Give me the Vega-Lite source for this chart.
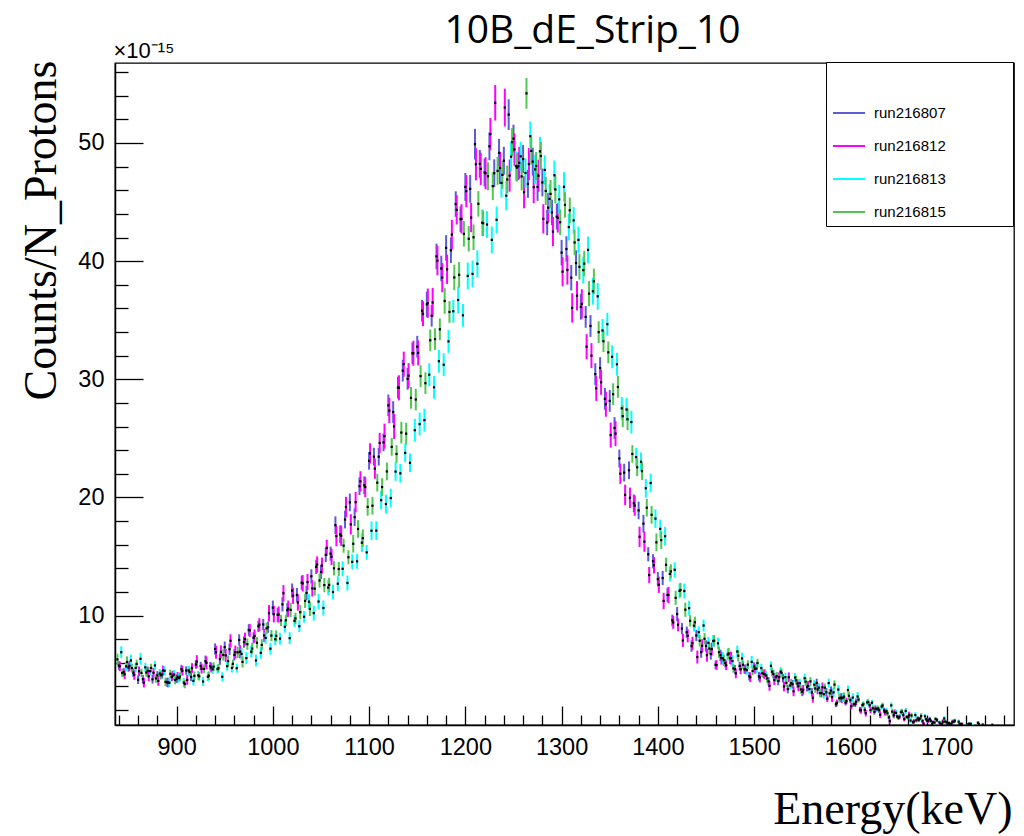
{
"$schema": "https://vega.github.io/schema/vega-lite/v6.json",
"width": 899, "height": 662,
"autosize": {"type": "none"},
"padding": {"left": 115, "top": 63, "right": 10, "bottom": 111},
"background": "white",
"title": {"text": "10B_dE_Strip_10", "font": "Open Sans", "fontSize": 39, "fontWeight": "normal", "color": "black", "anchor": "middle", "frame": "group", "dx": 28, "offset": -43, "baseline": "alphabetic"},
"config": {"view": {"stroke": "black", "strokeWidth": 1.3},
 "axis": {"labelFont": "Liberation Sans", "labelFontSize": 23.5, "labelColor": "black", "domainColor": "black", "domainWidth": 1.5, "tickColor": "black", "tickWidth": 1.3, "grid": false, "labelOverlap": false, "labelFlush": false, "labelBound": false, "titleColor": "black"}},
"data": {"values": [
{"r":"run216807","x":840,"y":5.77,"e":0.36},{"r":"run216807","x":845,"y":5.22,"e":0.36},{"r":"run216807","x":850,"y":5.61,"e":0.36},{"r":"run216807","x":855,"y":5.17,"e":0.36},{"r":"run216807","x":860,"y":4.57,"e":0.36},{"r":"run216807","x":865,"y":4.61,"e":0.36},{"r":"run216807","x":870,"y":5.32,"e":0.36},{"r":"run216807","x":875,"y":4.61,"e":0.36},{"r":"run216807","x":880,"y":4.94,"e":0.36},{"r":"run216807","x":885,"y":5.02,"e":0.36},{"r":"run216807","x":890,"y":4.35,"e":0.36},{"r":"run216807","x":895,"y":4.8,"e":0.36},{"r":"run216807","x":900,"y":4.65,"e":0.36},{"r":"run216807","x":905,"y":5.47,"e":0.36},{"r":"run216807","x":910,"y":5.35,"e":0.36},{"r":"run216807","x":915,"y":4.81,"e":0.36},{"r":"run216807","x":920,"y":5.86,"e":0.36},{"r":"run216807","x":925,"y":5.73,"e":0.36},{"r":"run216807","x":930,"y":6.14,"e":0.48},{"r":"run216807","x":935,"y":5.72,"e":0.36},{"r":"run216807","x":940,"y":7.17,"e":0.48},{"r":"run216807","x":945,"y":6.31,"e":0.48},{"r":"run216807","x":950,"y":7.33,"e":0.48},{"r":"run216807","x":955,"y":7.15,"e":0.48},{"r":"run216807","x":960,"y":6.68,"e":0.48},{"r":"run216807","x":965,"y":7.94,"e":0.48},{"r":"run216807","x":970,"y":7.76,"e":0.48},{"r":"run216807","x":975,"y":8.78,"e":0.48},{"r":"run216807","x":980,"y":8.12,"e":0.48},{"r":"run216807","x":985,"y":9.09,"e":0.48},{"r":"run216807","x":990,"y":9.25,"e":0.48},{"r":"run216807","x":995,"y":9.02,"e":0.48},{"r":"run216807","x":1000,"y":10.67,"e":0.6},{"r":"run216807","x":1005,"y":10.06,"e":0.6},{"r":"run216807","x":1010,"y":10.95,"e":0.6},{"r":"run216807","x":1015,"y":10.46,"e":0.6},{"r":"run216807","x":1020,"y":12.12,"e":0.6},{"r":"run216807","x":1025,"y":11.74,"e":0.6},{"r":"run216807","x":1030,"y":12.79,"e":0.6},{"r":"run216807","x":1035,"y":11.92,"e":0.6},{"r":"run216807","x":1040,"y":13.32,"e":0.6},{"r":"run216807","x":1045,"y":14.12,"e":0.6},{"r":"run216807","x":1050,"y":13.7,"e":0.6},{"r":"run216807","x":1055,"y":15.14,"e":0.6},{"r":"run216807","x":1060,"y":15.24,"e":0.6},{"r":"run216807","x":1065,"y":17.65,"e":0.75},{"r":"run216807","x":1070,"y":16.88,"e":0.75},{"r":"run216807","x":1075,"y":18.13,"e":0.75},{"r":"run216807","x":1080,"y":19.58,"e":0.75},{"r":"run216807","x":1085,"y":18.33,"e":0.75},{"r":"run216807","x":1090,"y":20.95,"e":0.75},{"r":"run216807","x":1095,"y":21.03,"e":0.75},{"r":"run216807","x":1100,"y":23.1,"e":0.75},{"r":"run216807","x":1105,"y":23.45,"e":0.75},{"r":"run216807","x":1110,"y":23.45,"e":0.75},{"r":"run216807","x":1115,"y":24.66,"e":0.75},{"r":"run216807","x":1120,"y":27.79,"e":0.92},{"r":"run216807","x":1125,"y":27.23,"e":0.92},{"r":"run216807","x":1130,"y":29.3,"e":0.92},{"r":"run216807","x":1135,"y":30.73,"e":0.92},{"r":"run216807","x":1140,"y":30.04,"e":0.92},{"r":"run216807","x":1145,"y":32.2,"e":0.92},{"r":"run216807","x":1150,"y":32.76,"e":0.92},{"r":"run216807","x":1155,"y":35.8,"e":0.92},{"r":"run216807","x":1160,"y":36.34,"e":1.08},{"r":"run216807","x":1165,"y":35.38,"e":0.92},{"r":"run216807","x":1170,"y":40.4,"e":1.08},{"r":"run216807","x":1175,"y":39.38,"e":1.08},{"r":"run216807","x":1180,"y":41.12,"e":1.08},{"r":"run216807","x":1185,"y":40.92,"e":1.08},{"r":"run216807","x":1190,"y":44.83,"e":1.08},{"r":"run216807","x":1195,"y":43.55,"e":1.08},{"r":"run216807","x":1200,"y":46.28,"e":1.18},{"r":"run216807","x":1205,"y":46.12,"e":1.18},{"r":"run216807","x":1210,"y":49.9,"e":1.3},{"r":"run216807","x":1215,"y":48.23,"e":1.18},{"r":"run216807","x":1220,"y":47.5,"e":1.18},{"r":"run216807","x":1225,"y":49.72,"e":1.18},{"r":"run216807","x":1230,"y":47.44,"e":1.18},{"r":"run216807","x":1235,"y":49.17,"e":1.18},{"r":"run216807","x":1240,"y":48.5,"e":1.18},{"r":"run216807","x":1245,"y":52.4,"e":1.3},{"r":"run216807","x":1250,"y":50.37,"e":1.18},{"r":"run216807","x":1255,"y":48.03,"e":1.18},{"r":"run216807","x":1260,"y":48.64,"e":1.18},{"r":"run216807","x":1265,"y":46.54,"e":1.18},{"r":"run216807","x":1270,"y":48.42,"e":1.18},{"r":"run216807","x":1275,"y":46.28,"e":1.18},{"r":"run216807","x":1280,"y":46.66,"e":1.18},{"r":"run216807","x":1285,"y":43.27,"e":1.08},{"r":"run216807","x":1290,"y":44.12,"e":1.08},{"r":"run216807","x":1295,"y":43.76,"e":1.08},{"r":"run216807","x":1300,"y":40.72,"e":1.08},{"r":"run216807","x":1305,"y":41.03,"e":1.08},{"r":"run216807","x":1310,"y":38.6,"e":1.08},{"r":"run216807","x":1315,"y":39.84,"e":1.08},{"r":"run216807","x":1320,"y":36.13,"e":1.08},{"r":"run216807","x":1325,"y":35.28,"e":0.92},{"r":"run216807","x":1330,"y":34.51,"e":0.92},{"r":"run216807","x":1335,"y":30.44,"e":0.92},{"r":"run216807","x":1340,"y":30.95,"e":0.92},{"r":"run216807","x":1345,"y":28.34,"e":0.92},{"r":"run216807","x":1350,"y":28.17,"e":0.92},{"r":"run216807","x":1355,"y":25.88,"e":0.92},{"r":"run216807","x":1360,"y":23.3,"e":0.75},{"r":"run216807","x":1365,"y":22.1,"e":0.75},{"r":"run216807","x":1370,"y":22.3,"e":0.75},{"r":"run216807","x":1375,"y":19.5,"e":0.75},{"r":"run216807","x":1380,"y":18.9,"e":0.75},{"r":"run216807","x":1385,"y":17.78,"e":0.75},{"r":"run216807","x":1390,"y":15.19,"e":0.6},{"r":"run216807","x":1395,"y":14.6,"e":0.6},{"r":"run216807","x":1400,"y":13.08,"e":0.6},{"r":"run216807","x":1405,"y":13.18,"e":0.6},{"r":"run216807","x":1410,"y":11.75,"e":0.6},{"r":"run216807","x":1415,"y":9.6,"e":0.48},{"r":"run216807","x":1420,"y":10.13,"e":0.6},{"r":"run216807","x":1425,"y":8.9,"e":0.48},{"r":"run216807","x":1430,"y":8.59,"e":0.48},{"r":"run216807","x":1435,"y":7.42,"e":0.48},{"r":"run216807","x":1440,"y":8.32,"e":0.48},{"r":"run216807","x":1445,"y":6.91,"e":0.48},{"r":"run216807","x":1450,"y":7.43,"e":0.48},{"r":"run216807","x":1455,"y":6.75,"e":0.48},{"r":"run216807","x":1460,"y":5.83,"e":0.36},{"r":"run216807","x":1465,"y":6.64,"e":0.48},{"r":"run216807","x":1470,"y":5.98,"e":0.36},{"r":"run216807","x":1475,"y":6.38,"e":0.48},{"r":"run216807","x":1480,"y":5.46,"e":0.36},{"r":"run216807","x":1485,"y":5.74,"e":0.36},{"r":"run216807","x":1490,"y":5.45,"e":0.36},{"r":"run216807","x":1495,"y":4.87,"e":0.36},{"r":"run216807","x":1500,"y":5.69,"e":0.36},{"r":"run216807","x":1505,"y":4.86,"e":0.36},{"r":"run216807","x":1510,"y":5.06,"e":0.36},{"r":"run216807","x":1515,"y":4.43,"e":0.36},{"r":"run216807","x":1520,"y":5.05,"e":0.36},{"r":"run216807","x":1525,"y":4.46,"e":0.36},{"r":"run216807","x":1530,"y":4.7,"e":0.36},{"r":"run216807","x":1535,"y":3.78,"e":0.36},{"r":"run216807","x":1540,"y":4.19,"e":0.36},{"r":"run216807","x":1545,"y":4.25,"e":0.36},{"r":"run216807","x":1550,"y":3.54,"e":0.36},{"r":"run216807","x":1555,"y":3.94,"e":0.36},{"r":"run216807","x":1560,"y":3.5,"e":0.36},{"r":"run216807","x":1565,"y":4.3,"e":0.36},{"r":"run216807","x":1570,"y":3.44,"e":0.36},{"r":"run216807","x":1575,"y":3.51,"e":0.36},{"r":"run216807","x":1580,"y":3.65,"e":0.36},{"r":"run216807","x":1585,"y":2.49,"e":0.24},{"r":"run216807","x":1590,"y":3.06,"e":0.36},{"r":"run216807","x":1595,"y":2.63,"e":0.24},{"r":"run216807","x":1600,"y":2.84,"e":0.24},{"r":"run216807","x":1605,"y":2.5,"e":0.24},{"r":"run216807","x":1610,"y":2.03,"e":0.24},{"r":"run216807","x":1615,"y":2.01,"e":0.24},{"r":"run216807","x":1620,"y":2.42,"e":0.24},{"r":"run216807","x":1625,"y":1.85,"e":0.24},{"r":"run216807","x":1630,"y":1.99,"e":0.24},{"r":"run216807","x":1635,"y":1.97,"e":0.24},{"r":"run216807","x":1640,"y":1.39,"e":0.18},{"r":"run216807","x":1645,"y":1.55,"e":0.24},{"r":"run216807","x":1650,"y":1.35,"e":0.18},{"r":"run216807","x":1655,"y":1.6,"e":0.24},{"r":"run216807","x":1660,"y":1.39,"e":0.18},{"r":"run216807","x":1665,"y":0.98,"e":0.14},{"r":"run216807","x":1670,"y":1.3,"e":0.18},{"r":"run216807","x":1675,"y":1.07,"e":0.18},{"r":"run216807","x":1680,"y":1.09,"e":0.18},{"r":"run216807","x":1685,"y":0.84,"e":0.14},{"r":"run216807","x":1690,"y":1.15,"e":0.18},{"r":"run216807","x":1695,"y":0.8,"e":0.14},{"r":"run216807","x":1700,"y":0.98,"e":0.14},{"r":"run216807","x":1705,"y":0.81,"e":0.14},{"r":"run216807","x":1715,"y":0.82,"e":0.14},{"r":"run216807","x":1720,"y":0.65,"e":0.14},{"r":"run216807","x":1725,"y":0.83,"e":0.14},
{"r":"run216812","x":841,"y":5.71,"e":0.41},{"r":"run216812","x":846,"y":5.03,"e":0.41},{"r":"run216812","x":851,"y":5.74,"e":0.41},{"r":"run216812","x":856,"y":4.98,"e":0.41},{"r":"run216812","x":861,"y":5.29,"e":0.41},{"r":"run216812","x":866,"y":4.33,"e":0.41},{"r":"run216812","x":871,"y":4.86,"e":0.41},{"r":"run216812","x":876,"y":5.16,"e":0.41},{"r":"run216812","x":881,"y":4.47,"e":0.41},{"r":"run216812","x":886,"y":5.36,"e":0.41},{"r":"run216812","x":891,"y":4.34,"e":0.41},{"r":"run216812","x":896,"y":4.92,"e":0.41},{"r":"run216812","x":901,"y":4.82,"e":0.41},{"r":"run216812","x":906,"y":5.33,"e":0.41},{"r":"run216812","x":911,"y":4.56,"e":0.41},{"r":"run216812","x":916,"y":5.56,"e":0.41},{"r":"run216812","x":921,"y":6.1,"e":0.55},{"r":"run216812","x":926,"y":5.51,"e":0.41},{"r":"run216812","x":931,"y":6.0,"e":0.55},{"r":"run216812","x":936,"y":5.6,"e":0.41},{"r":"run216812","x":941,"y":6.9,"e":0.55},{"r":"run216812","x":946,"y":6.93,"e":0.55},{"r":"run216812","x":951,"y":6.63,"e":0.55},{"r":"run216812","x":956,"y":7.87,"e":0.55},{"r":"run216812","x":961,"y":6.91,"e":0.55},{"r":"run216812","x":966,"y":6.94,"e":0.55},{"r":"run216812","x":971,"y":8.01,"e":0.55},{"r":"run216812","x":976,"y":8.75,"e":0.55},{"r":"run216812","x":981,"y":8.28,"e":0.55},{"r":"run216812","x":986,"y":9.23,"e":0.55},{"r":"run216812","x":991,"y":8.32,"e":0.55},{"r":"run216812","x":996,"y":10.2,"e":0.69},{"r":"run216812","x":1001,"y":10.12,"e":0.69},{"r":"run216812","x":1006,"y":10.09,"e":0.69},{"r":"run216812","x":1011,"y":11.89,"e":0.69},{"r":"run216812","x":1016,"y":10.59,"e":0.69},{"r":"run216812","x":1021,"y":11.68,"e":0.69},{"r":"run216812","x":1026,"y":11.11,"e":0.69},{"r":"run216812","x":1031,"y":12.73,"e":0.69},{"r":"run216812","x":1036,"y":12.84,"e":0.69},{"r":"run216812","x":1041,"y":12.3,"e":0.69},{"r":"run216812","x":1046,"y":14.32,"e":0.69},{"r":"run216812","x":1051,"y":14.23,"e":0.69},{"r":"run216812","x":1056,"y":15.73,"e":0.69},{"r":"run216812","x":1061,"y":14.98,"e":0.69},{"r":"run216812","x":1066,"y":16.73,"e":0.86},{"r":"run216812","x":1071,"y":16.76,"e":0.86},{"r":"run216812","x":1076,"y":19.19,"e":0.86},{"r":"run216812","x":1081,"y":17.72,"e":0.86},{"r":"run216812","x":1086,"y":19.6,"e":0.86},{"r":"run216812","x":1091,"y":21.36,"e":0.86},{"r":"run216812","x":1096,"y":20.88,"e":0.86},{"r":"run216812","x":1101,"y":23.73,"e":0.86},{"r":"run216812","x":1106,"y":22.44,"e":0.86},{"r":"run216812","x":1111,"y":24.61,"e":0.86},{"r":"run216812","x":1116,"y":25.19,"e":1.06},{"r":"run216812","x":1121,"y":27.35,"e":1.06},{"r":"run216812","x":1126,"y":26.01,"e":1.06},{"r":"run216812","x":1131,"y":29.28,"e":1.06},{"r":"run216812","x":1136,"y":31.28,"e":1.06},{"r":"run216812","x":1141,"y":30.31,"e":1.06},{"r":"run216812","x":1146,"y":32.2,"e":1.06},{"r":"run216812","x":1151,"y":32.23,"e":1.06},{"r":"run216812","x":1156,"y":35.55,"e":1.06},{"r":"run216812","x":1161,"y":36.44,"e":1.24},{"r":"run216812","x":1166,"y":36.5,"e":1.24},{"r":"run216812","x":1171,"y":40.04,"e":1.24},{"r":"run216812","x":1176,"y":38.61,"e":1.24},{"r":"run216812","x":1181,"y":39.31,"e":1.24},{"r":"run216812","x":1186,"y":42.25,"e":1.24},{"r":"run216812","x":1191,"y":44.34,"e":1.24},{"r":"run216812","x":1196,"y":43.58,"e":1.24},{"r":"run216812","x":1201,"y":45.92,"e":1.36},{"r":"run216812","x":1206,"y":43.69,"e":1.24},{"r":"run216812","x":1211,"y":48.2,"e":1.36},{"r":"run216812","x":1216,"y":47.81,"e":1.36},{"r":"run216812","x":1221,"y":47.44,"e":1.36},{"r":"run216812","x":1226,"y":50.75,"e":1.36},{"r":"run216812","x":1231,"y":53.4,"e":1.5},{"r":"run216812","x":1236,"y":47.88,"e":1.36},{"r":"run216812","x":1241,"y":53.0,"e":1.6},{"r":"run216812","x":1246,"y":47.24,"e":1.36},{"r":"run216812","x":1251,"y":49.45,"e":1.36},{"r":"run216812","x":1256,"y":48.32,"e":1.36},{"r":"run216812","x":1261,"y":45.83,"e":1.36},{"r":"run216812","x":1266,"y":48.22,"e":1.36},{"r":"run216812","x":1271,"y":46.26,"e":1.36},{"r":"run216812","x":1276,"y":47.23,"e":1.36},{"r":"run216812","x":1281,"y":43.58,"e":1.24},{"r":"run216812","x":1286,"y":44.52,"e":1.24},{"r":"run216812","x":1291,"y":42.5,"e":1.24},{"r":"run216812","x":1296,"y":43.66,"e":1.24},{"r":"run216812","x":1301,"y":39.11,"e":1.24},{"r":"run216812","x":1306,"y":39.25,"e":1.24},{"r":"run216812","x":1311,"y":36.04,"e":1.24},{"r":"run216812","x":1316,"y":37.07,"e":1.24},{"r":"run216812","x":1321,"y":36.38,"e":1.24},{"r":"run216812","x":1326,"y":32.76,"e":1.06},{"r":"run216812","x":1331,"y":32.0,"e":1.06},{"r":"run216812","x":1336,"y":29.23,"e":1.06},{"r":"run216812","x":1341,"y":29.75,"e":1.06},{"r":"run216812","x":1346,"y":27.89,"e":1.06},{"r":"run216812","x":1351,"y":25.28,"e":1.06},{"r":"run216812","x":1356,"y":25.4,"e":1.06},{"r":"run216812","x":1361,"y":22.01,"e":0.86},{"r":"run216812","x":1366,"y":20.22,"e":0.86},{"r":"run216812","x":1371,"y":19.97,"e":0.86},{"r":"run216812","x":1376,"y":19.31,"e":0.86},{"r":"run216812","x":1381,"y":16.67,"e":0.86},{"r":"run216812","x":1386,"y":16.26,"e":0.86},{"r":"run216812","x":1391,"y":13.43,"e":0.69},{"r":"run216812","x":1396,"y":14.26,"e":0.69},{"r":"run216812","x":1401,"y":12.61,"e":0.69},{"r":"run216812","x":1406,"y":11.24,"e":0.69},{"r":"run216812","x":1411,"y":11.74,"e":0.69},{"r":"run216812","x":1416,"y":9.42,"e":0.55},{"r":"run216812","x":1421,"y":9.22,"e":0.55},{"r":"run216812","x":1426,"y":7.9,"e":0.55},{"r":"run216812","x":1431,"y":8.29,"e":0.55},{"r":"run216812","x":1436,"y":7.66,"e":0.55},{"r":"run216812","x":1441,"y":6.49,"e":0.55},{"r":"run216812","x":1446,"y":7.45,"e":0.55},{"r":"run216812","x":1451,"y":6.65,"e":0.55},{"r":"run216812","x":1456,"y":7.16,"e":0.55},{"r":"run216812","x":1461,"y":5.81,"e":0.41},{"r":"run216812","x":1466,"y":6.4,"e":0.55},{"r":"run216812","x":1471,"y":5.79,"e":0.41},{"r":"run216812","x":1476,"y":6.4,"e":0.55},{"r":"run216812","x":1481,"y":5.11,"e":0.41},{"r":"run216812","x":1486,"y":5.45,"e":0.41},{"r":"run216812","x":1491,"y":5.46,"e":0.41},{"r":"run216812","x":1496,"y":4.78,"e":0.41},{"r":"run216812","x":1501,"y":5.49,"e":0.41},{"r":"run216812","x":1506,"y":4.76,"e":0.41},{"r":"run216812","x":1511,"y":5.04,"e":0.41},{"r":"run216812","x":1516,"y":4.05,"e":0.41},{"r":"run216812","x":1521,"y":4.54,"e":0.41},{"r":"run216812","x":1526,"y":4.79,"e":0.41},{"r":"run216812","x":1531,"y":4.0,"e":0.41},{"r":"run216812","x":1536,"y":4.78,"e":0.41},{"r":"run216812","x":1541,"y":3.59,"e":0.41},{"r":"run216812","x":1546,"y":4.02,"e":0.41},{"r":"run216812","x":1551,"y":3.72,"e":0.41},{"r":"run216812","x":1556,"y":4.05,"e":0.41},{"r":"run216812","x":1561,"y":3.04,"e":0.41},{"r":"run216812","x":1566,"y":3.75,"e":0.41},{"r":"run216812","x":1571,"y":3.93,"e":0.41},{"r":"run216812","x":1576,"y":2.96,"e":0.28},{"r":"run216812","x":1581,"y":3.1,"e":0.41},{"r":"run216812","x":1586,"y":2.61,"e":0.28},{"r":"run216812","x":1591,"y":3.0,"e":0.41},{"r":"run216812","x":1596,"y":2.77,"e":0.28},{"r":"run216812","x":1601,"y":2.34,"e":0.28},{"r":"run216812","x":1606,"y":2.71,"e":0.28},{"r":"run216812","x":1611,"y":1.98,"e":0.28},{"r":"run216812","x":1616,"y":1.74,"e":0.28},{"r":"run216812","x":1621,"y":2.01,"e":0.28},{"r":"run216812","x":1626,"y":2.13,"e":0.28},{"r":"run216812","x":1631,"y":1.61,"e":0.28},{"r":"run216812","x":1636,"y":1.82,"e":0.28},{"r":"run216812","x":1641,"y":1.07,"e":0.2},{"r":"run216812","x":1646,"y":1.78,"e":0.28},{"r":"run216812","x":1651,"y":1.44,"e":0.2},{"r":"run216812","x":1656,"y":1.24,"e":0.2},{"r":"run216812","x":1661,"y":1.59,"e":0.28},{"r":"run216812","x":1666,"y":1.04,"e":0.2},{"r":"run216812","x":1671,"y":1.18,"e":0.2},{"r":"run216812","x":1676,"y":0.84,"e":0.16},{"r":"run216812","x":1681,"y":1.12,"e":0.2},{"r":"run216812","x":1686,"y":0.97,"e":0.16},{"r":"run216812","x":1691,"y":0.62,"e":0.16},{"r":"run216812","x":1696,"y":1.02,"e":0.2},{"r":"run216812","x":1701,"y":0.78,"e":0.16},{"r":"run216812","x":1706,"y":1.0,"e":0.2},{"r":"run216812","x":1716,"y":0.79,"e":0.16},
{"r":"run216813","x":842.5,"y":6.9,"e":0.5},{"r":"run216813","x":847.5,"y":5.7,"e":0.38},{"r":"run216813","x":852.5,"y":6.2,"e":0.5},{"r":"run216813","x":857.5,"y":5.57,"e":0.38},{"r":"run216813","x":862.5,"y":6.34,"e":0.5},{"r":"run216813","x":867.5,"y":5.62,"e":0.38},{"r":"run216813","x":872.5,"y":5.29,"e":0.38},{"r":"run216813","x":877.5,"y":5.78,"e":0.38},{"r":"run216813","x":882.5,"y":5.1,"e":0.38},{"r":"run216813","x":887.5,"y":5.33,"e":0.38},{"r":"run216813","x":892.5,"y":4.32,"e":0.38},{"r":"run216813","x":897.5,"y":5.01,"e":0.38},{"r":"run216813","x":902.5,"y":4.71,"e":0.38},{"r":"run216813","x":907.5,"y":4.33,"e":0.38},{"r":"run216813","x":912.5,"y":5.36,"e":0.38},{"r":"run216813","x":917.5,"y":4.47,"e":0.38},{"r":"run216813","x":922.5,"y":4.94,"e":0.38},{"r":"run216813","x":927.5,"y":4.42,"e":0.38},{"r":"run216813","x":932.5,"y":4.82,"e":0.38},{"r":"run216813","x":937.5,"y":5.45,"e":0.38},{"r":"run216813","x":942.5,"y":5.47,"e":0.38},{"r":"run216813","x":947.5,"y":4.82,"e":0.38},{"r":"run216813","x":952.5,"y":5.72,"e":0.38},{"r":"run216813","x":957.5,"y":5.57,"e":0.38},{"r":"run216813","x":962.5,"y":5.55,"e":0.38},{"r":"run216813","x":967.5,"y":6.75,"e":0.5},{"r":"run216813","x":972.5,"y":6.4,"e":0.5},{"r":"run216813","x":977.5,"y":6.95,"e":0.5},{"r":"run216813","x":982.5,"y":6.2,"e":0.5},{"r":"run216813","x":987.5,"y":6.85,"e":0.5},{"r":"run216813","x":992.5,"y":8.11,"e":0.5},{"r":"run216813","x":997.5,"y":7.2,"e":0.5},{"r":"run216813","x":1002.5,"y":8.0,"e":0.5},{"r":"run216813","x":1007.5,"y":8.05,"e":0.5},{"r":"run216813","x":1012.5,"y":9.05,"e":0.5},{"r":"run216813","x":1017.5,"y":8.09,"e":0.5},{"r":"run216813","x":1022.5,"y":9.55,"e":0.5},{"r":"run216813","x":1027.5,"y":9.1,"e":0.5},{"r":"run216813","x":1032.5,"y":9.9,"e":0.5},{"r":"run216813","x":1037.5,"y":11.18,"e":0.63},{"r":"run216813","x":1042.5,"y":10.21,"e":0.63},{"r":"run216813","x":1047.5,"y":11.19,"e":0.63},{"r":"run216813","x":1052.5,"y":10.64,"e":0.63},{"r":"run216813","x":1057.5,"y":12.37,"e":0.63},{"r":"run216813","x":1062.5,"y":12.0,"e":0.63},{"r":"run216813","x":1067.5,"y":12.7,"e":0.63},{"r":"run216813","x":1072.5,"y":13.96,"e":0.63},{"r":"run216813","x":1077.5,"y":12.76,"e":0.63},{"r":"run216813","x":1082.5,"y":14.55,"e":0.63},{"r":"run216813","x":1087.5,"y":14.59,"e":0.63},{"r":"run216813","x":1092.5,"y":16.17,"e":0.79},{"r":"run216813","x":1097.5,"y":15.35,"e":0.63},{"r":"run216813","x":1102.5,"y":17.18,"e":0.79},{"r":"run216813","x":1107.5,"y":17.19,"e":0.79},{"r":"run216813","x":1112.5,"y":19.77,"e":0.79},{"r":"run216813","x":1117.5,"y":19.44,"e":0.79},{"r":"run216813","x":1122.5,"y":19.95,"e":0.79},{"r":"run216813","x":1127.5,"y":22.19,"e":0.79},{"r":"run216813","x":1132.5,"y":22.04,"e":0.79},{"r":"run216813","x":1137.5,"y":23.77,"e":0.79},{"r":"run216813","x":1142.5,"y":22.93,"e":0.79},{"r":"run216813","x":1147.5,"y":25.69,"e":0.97},{"r":"run216813","x":1152.5,"y":26.21,"e":0.97},{"r":"run216813","x":1157.5,"y":26.54,"e":0.97},{"r":"run216813","x":1162.5,"y":30.39,"e":0.97},{"r":"run216813","x":1167.5,"y":29.32,"e":0.97},{"r":"run216813","x":1172.5,"y":31.53,"e":0.97},{"r":"run216813","x":1177.5,"y":31.23,"e":0.97},{"r":"run216813","x":1182.5,"y":33.21,"e":0.97},{"r":"run216813","x":1187.5,"y":35.76,"e":0.97},{"r":"run216813","x":1192.5,"y":36.71,"e":1.13},{"r":"run216813","x":1197.5,"y":35.41,"e":0.97},{"r":"run216813","x":1202.5,"y":38.75,"e":1.13},{"r":"run216813","x":1207.5,"y":38.92,"e":1.13},{"r":"run216813","x":1212.5,"y":39.78,"e":1.13},{"r":"run216813","x":1217.5,"y":43.25,"e":1.13},{"r":"run216813","x":1222.5,"y":43.1,"e":1.13},{"r":"run216813","x":1227.5,"y":41.8,"e":1.13},{"r":"run216813","x":1232.5,"y":43.5,"e":1.13},{"r":"run216813","x":1237.5,"y":46.62,"e":1.24},{"r":"run216813","x":1242.5,"y":45.54,"e":1.24},{"r":"run216813","x":1247.5,"y":48.84,"e":1.24},{"r":"run216813","x":1252.5,"y":48.05,"e":1.24},{"r":"run216813","x":1257.5,"y":48.87,"e":1.24},{"r":"run216813","x":1262.5,"y":47.46,"e":1.24},{"r":"run216813","x":1267.5,"y":50.58,"e":1.24},{"r":"run216813","x":1272.5,"y":47.76,"e":1.24},{"r":"run216813","x":1277.5,"y":49.29,"e":1.24},{"r":"run216813","x":1282.5,"y":47.72,"e":1.24},{"r":"run216813","x":1287.5,"y":45.27,"e":1.24},{"r":"run216813","x":1292.5,"y":47.27,"e":1.24},{"r":"run216813","x":1297.5,"y":45.23,"e":1.24},{"r":"run216813","x":1302.5,"y":46.29,"e":1.24},{"r":"run216813","x":1307.5,"y":42.88,"e":1.13},{"r":"run216813","x":1312.5,"y":43.45,"e":1.13},{"r":"run216813","x":1317.5,"y":41.8,"e":1.13},{"r":"run216813","x":1322.5,"y":39.24,"e":1.13},{"r":"run216813","x":1327.5,"y":40.95,"e":1.13},{"r":"run216813","x":1332.5,"y":37.45,"e":1.13},{"r":"run216813","x":1337.5,"y":37.02,"e":1.13},{"r":"run216813","x":1342.5,"y":34.13,"e":0.97},{"r":"run216813","x":1347.5,"y":34.66,"e":0.97},{"r":"run216813","x":1352.5,"y":31.9,"e":0.97},{"r":"run216813","x":1357.5,"y":31.27,"e":0.97},{"r":"run216813","x":1362.5,"y":27.54,"e":0.97},{"r":"run216813","x":1367.5,"y":27.44,"e":0.97},{"r":"run216813","x":1372.5,"y":26.38,"e":0.97},{"r":"run216813","x":1377.5,"y":23.41,"e":0.79},{"r":"run216813","x":1382.5,"y":23.02,"e":0.79},{"r":"run216813","x":1387.5,"y":20.78,"e":0.79},{"r":"run216813","x":1392.5,"y":21.22,"e":0.79},{"r":"run216813","x":1397.5,"y":18.21,"e":0.79},{"r":"run216813","x":1402.5,"y":17.34,"e":0.79},{"r":"run216813","x":1407.5,"y":16.72,"e":0.79},{"r":"run216813","x":1412.5,"y":13.53,"e":0.63},{"r":"run216813","x":1417.5,"y":13.88,"e":0.63},{"r":"run216813","x":1422.5,"y":12.09,"e":0.63},{"r":"run216813","x":1427.5,"y":12.08,"e":0.63},{"r":"run216813","x":1432.5,"y":10.63,"e":0.63},{"r":"run216813","x":1437.5,"y":9.15,"e":0.5},{"r":"run216813","x":1442.5,"y":8.6,"e":0.5},{"r":"run216813","x":1447.5,"y":9.16,"e":0.5},{"r":"run216813","x":1452.5,"y":7.7,"e":0.5},{"r":"run216813","x":1457.5,"y":7.85,"e":0.5},{"r":"run216813","x":1462.5,"y":7.65,"e":0.5},{"r":"run216813","x":1467.5,"y":6.4,"e":0.5},{"r":"run216813","x":1472.5,"y":6.7,"e":0.5},{"r":"run216813","x":1477.5,"y":6.15,"e":0.5},{"r":"run216813","x":1482.5,"y":6.96,"e":0.5},{"r":"run216813","x":1487.5,"y":6.37,"e":0.5},{"r":"run216813","x":1492.5,"y":5.38,"e":0.38},{"r":"run216813","x":1497.5,"y":6.08,"e":0.5},{"r":"run216813","x":1502.5,"y":5.52,"e":0.38},{"r":"run216813","x":1507.5,"y":5.56,"e":0.38},{"r":"run216813","x":1512.5,"y":4.92,"e":0.38},{"r":"run216813","x":1517.5,"y":5.75,"e":0.38},{"r":"run216813","x":1522.5,"y":4.77,"e":0.38},{"r":"run216813","x":1527.5,"y":5.26,"e":0.38},{"r":"run216813","x":1532.5,"y":4.79,"e":0.38},{"r":"run216813","x":1537.5,"y":4.09,"e":0.38},{"r":"run216813","x":1542.5,"y":4.76,"e":0.38},{"r":"run216813","x":1547.5,"y":4.27,"e":0.38},{"r":"run216813","x":1552.5,"y":4.7,"e":0.38},{"r":"run216813","x":1557.5,"y":3.78,"e":0.38},{"r":"run216813","x":1562.5,"y":4.15,"e":0.38},{"r":"run216813","x":1567.5,"y":3.9,"e":0.38},{"r":"run216813","x":1572.5,"y":3.35,"e":0.38},{"r":"run216813","x":1577.5,"y":4.29,"e":0.38},{"r":"run216813","x":1582.5,"y":3.5,"e":0.38},{"r":"run216813","x":1587.5,"y":3.74,"e":0.38},{"r":"run216813","x":1592.5,"y":3.06,"e":0.38},{"r":"run216813","x":1597.5,"y":3.7,"e":0.38},{"r":"run216813","x":1602.5,"y":3.06,"e":0.38},{"r":"run216813","x":1607.5,"y":3.15,"e":0.38},{"r":"run216813","x":1612.5,"y":2.42,"e":0.25},{"r":"run216813","x":1617.5,"y":2.65,"e":0.25},{"r":"run216813","x":1622.5,"y":2.63,"e":0.25},{"r":"run216813","x":1627.5,"y":2.07,"e":0.25},{"r":"run216813","x":1632.5,"y":2.3,"e":0.25},{"r":"run216813","x":1637.5,"y":1.93,"e":0.25},{"r":"run216813","x":1642.5,"y":2.4,"e":0.25},{"r":"run216813","x":1647.5,"y":1.77,"e":0.25},{"r":"run216813","x":1652.5,"y":1.83,"e":0.25},{"r":"run216813","x":1657.5,"y":1.93,"e":0.25},{"r":"run216813","x":1662.5,"y":1.12,"e":0.19},{"r":"run216813","x":1667.5,"y":1.58,"e":0.25},{"r":"run216813","x":1672.5,"y":1.29,"e":0.19},{"r":"run216813","x":1677.5,"y":1.48,"e":0.19},{"r":"run216813","x":1682.5,"y":1.26,"e":0.19},{"r":"run216813","x":1687.5,"y":0.95,"e":0.15},{"r":"run216813","x":1692.5,"y":0.96,"e":0.15},{"r":"run216813","x":1697.5,"y":1.29,"e":0.19},{"r":"run216813","x":1702.5,"y":0.91,"e":0.15},{"r":"run216813","x":1707.5,"y":1.03,"e":0.19},{"r":"run216813","x":1712.5,"y":1.02,"e":0.19},{"r":"run216813","x":1717.5,"y":0.66,"e":0.15},{"r":"run216813","x":1722.5,"y":0.8,"e":0.15},{"r":"run216813","x":1727.5,"y":0.65,"e":0.15},{"r":"run216813","x":1732.5,"y":0.93,"e":0.15},{"r":"run216813","x":1737.5,"y":0.77,"e":0.15},{"r":"run216813","x":1747.5,"y":0.75,"e":0.15},
{"r":"run216815","x":838.5,"y":6.29,"e":0.48},{"r":"run216815","x":843.5,"y":5.14,"e":0.36},{"r":"run216815","x":848.5,"y":6.07,"e":0.48},{"r":"run216815","x":853.5,"y":5.56,"e":0.36},{"r":"run216815","x":858.5,"y":5.91,"e":0.36},{"r":"run216815","x":863.5,"y":5.15,"e":0.36},{"r":"run216815","x":868.5,"y":5.18,"e":0.36},{"r":"run216815","x":873.5,"y":5.57,"e":0.36},{"r":"run216815","x":878.5,"y":4.68,"e":0.36},{"r":"run216815","x":883.5,"y":4.94,"e":0.36},{"r":"run216815","x":888.5,"y":4.39,"e":0.36},{"r":"run216815","x":893.5,"y":5.07,"e":0.36},{"r":"run216815","x":898.5,"y":4.54,"e":0.36},{"r":"run216815","x":903.5,"y":4.84,"e":0.36},{"r":"run216815","x":908.5,"y":4.21,"e":0.36},{"r":"run216815","x":913.5,"y":5.23,"e":0.36},{"r":"run216815","x":918.5,"y":4.9,"e":0.36},{"r":"run216815","x":923.5,"y":4.86,"e":0.36},{"r":"run216815","x":928.5,"y":5.49,"e":0.36},{"r":"run216815","x":933.5,"y":4.92,"e":0.36},{"r":"run216815","x":938.5,"y":5.68,"e":0.36},{"r":"run216815","x":943.5,"y":5.55,"e":0.36},{"r":"run216815","x":948.5,"y":6.67,"e":0.48},{"r":"run216815","x":953.5,"y":6.15,"e":0.48},{"r":"run216815","x":958.5,"y":5.92,"e":0.36},{"r":"run216815","x":963.5,"y":6.89,"e":0.48},{"r":"run216815","x":968.5,"y":6.08,"e":0.48},{"r":"run216815","x":973.5,"y":7.58,"e":0.48},{"r":"run216815","x":978.5,"y":7.21,"e":0.48},{"r":"run216815","x":983.5,"y":7.7,"e":0.48},{"r":"run216815","x":988.5,"y":7.52,"e":0.48},{"r":"run216815","x":993.5,"y":8.92,"e":0.48},{"r":"run216815","x":998.5,"y":8.31,"e":0.48},{"r":"run216815","x":1003.5,"y":8.28,"e":0.48},{"r":"run216815","x":1008.5,"y":9.59,"e":0.48},{"r":"run216815","x":1013.5,"y":9.6,"e":0.48},{"r":"run216815","x":1018.5,"y":10.48,"e":0.6},{"r":"run216815","x":1023.5,"y":9.76,"e":0.48},{"r":"run216815","x":1028.5,"y":10.29,"e":0.6},{"r":"run216815","x":1033.5,"y":11.24,"e":0.6},{"r":"run216815","x":1038.5,"y":10.56,"e":0.6},{"r":"run216815","x":1043.5,"y":12.28,"e":0.6},{"r":"run216815","x":1048.5,"y":12.97,"e":0.6},{"r":"run216815","x":1053.5,"y":12.58,"e":0.6},{"r":"run216815","x":1058.5,"y":12.6,"e":0.6},{"r":"run216815","x":1063.5,"y":14.0,"e":0.6},{"r":"run216815","x":1068.5,"y":13.94,"e":0.6},{"r":"run216815","x":1073.5,"y":15.92,"e":0.6},{"r":"run216815","x":1078.5,"y":14.94,"e":0.6},{"r":"run216815","x":1083.5,"y":16.08,"e":0.75},{"r":"run216815","x":1088.5,"y":17.33,"e":0.75},{"r":"run216815","x":1093.5,"y":16.55,"e":0.75},{"r":"run216815","x":1098.5,"y":19.2,"e":0.75},{"r":"run216815","x":1103.5,"y":19.3,"e":0.75},{"r":"run216815","x":1108.5,"y":21.25,"e":0.75},{"r":"run216815","x":1113.5,"y":20.88,"e":0.75},{"r":"run216815","x":1118.5,"y":22.2,"e":0.75},{"r":"run216815","x":1123.5,"y":24.28,"e":0.75},{"r":"run216815","x":1128.5,"y":23.68,"e":0.75},{"r":"run216815","x":1133.5,"y":25.49,"e":0.92},{"r":"run216815","x":1138.5,"y":25.4,"e":0.92},{"r":"run216815","x":1143.5,"y":28.43,"e":0.92},{"r":"run216815","x":1148.5,"y":28.29,"e":0.92},{"r":"run216815","x":1153.5,"y":30.27,"e":0.92},{"r":"run216815","x":1158.5,"y":29.67,"e":0.92},{"r":"run216815","x":1163.5,"y":33.3,"e":0.92},{"r":"run216815","x":1168.5,"y":33.4,"e":0.92},{"r":"run216815","x":1173.5,"y":34.23,"e":0.92},{"r":"run216815","x":1178.5,"y":36.63,"e":1.08},{"r":"run216815","x":1183.5,"y":35.7,"e":0.92},{"r":"run216815","x":1188.5,"y":38.62,"e":1.08},{"r":"run216815","x":1193.5,"y":38.84,"e":1.08},{"r":"run216815","x":1198.5,"y":42.31,"e":1.08},{"r":"run216815","x":1203.5,"y":41.89,"e":1.08},{"r":"run216815","x":1208.5,"y":42.02,"e":1.08},{"r":"run216815","x":1213.5,"y":44.85,"e":1.08},{"r":"run216815","x":1218.5,"y":43.21,"e":1.08},{"r":"run216815","x":1223.5,"y":47.18,"e":1.18},{"r":"run216815","x":1228.5,"y":46.35,"e":1.18},{"r":"run216815","x":1233.5,"y":47.64,"e":1.18},{"r":"run216815","x":1238.5,"y":47.3,"e":1.18},{"r":"run216815","x":1243.5,"y":46.91,"e":1.18},{"r":"run216815","x":1248.5,"y":50.07,"e":1.18},{"r":"run216815","x":1253.5,"y":47.91,"e":1.18},{"r":"run216815","x":1258.5,"y":47.17,"e":1.18},{"r":"run216815","x":1263.5,"y":54.2,"e":1.3},{"r":"run216815","x":1268.5,"y":49.33,"e":1.18},{"r":"run216815","x":1273.5,"y":48.05,"e":1.18},{"r":"run216815","x":1278.5,"y":48.9,"e":1.18},{"r":"run216815","x":1283.5,"y":45.94,"e":1.18},{"r":"run216815","x":1288.5,"y":45.69,"e":1.18},{"r":"run216815","x":1293.5,"y":46.07,"e":1.18},{"r":"run216815","x":1298.5,"y":43.29,"e":1.08},{"r":"run216815","x":1303.5,"y":44.76,"e":1.08},{"r":"run216815","x":1308.5,"y":44.3,"e":1.08},{"r":"run216815","x":1313.5,"y":41.58,"e":1.08},{"r":"run216815","x":1318.5,"y":39.52,"e":1.08},{"r":"run216815","x":1323.5,"y":39.79,"e":1.08},{"r":"run216815","x":1328.5,"y":37.25,"e":1.08},{"r":"run216815","x":1333.5,"y":38.29,"e":1.08},{"r":"run216815","x":1338.5,"y":33.99,"e":0.92},{"r":"run216815","x":1343.5,"y":33.22,"e":0.92},{"r":"run216815","x":1348.5,"y":32.28,"e":0.92},{"r":"run216815","x":1353.5,"y":28.74,"e":0.92},{"r":"run216815","x":1358.5,"y":29.35,"e":0.92},{"r":"run216815","x":1363.5,"y":26.88,"e":0.92},{"r":"run216815","x":1368.5,"y":26.62,"e":0.92},{"r":"run216815","x":1373.5,"y":23.68,"e":0.75},{"r":"run216815","x":1378.5,"y":22.55,"e":0.75},{"r":"run216815","x":1383.5,"y":22.23,"e":0.75},{"r":"run216815","x":1388.5,"y":19.13,"e":0.75},{"r":"run216815","x":1393.5,"y":18.53,"e":0.75},{"r":"run216815","x":1398.5,"y":16.2,"e":0.75},{"r":"run216815","x":1403.5,"y":16.39,"e":0.75},{"r":"run216815","x":1408.5,"y":14.3,"e":0.6},{"r":"run216815","x":1413.5,"y":13.74,"e":0.6},{"r":"run216815","x":1418.5,"y":11.5,"e":0.6},{"r":"run216815","x":1423.5,"y":12.17,"e":0.6},{"r":"run216815","x":1428.5,"y":10.5,"e":0.6},{"r":"run216815","x":1433.5,"y":9.56,"e":0.48},{"r":"run216815","x":1438.5,"y":9.43,"e":0.48},{"r":"run216815","x":1443.5,"y":7.87,"e":0.48},{"r":"run216815","x":1448.5,"y":8.04,"e":0.48},{"r":"run216815","x":1453.5,"y":7.21,"e":0.48},{"r":"run216815","x":1458.5,"y":7.87,"e":0.48},{"r":"run216815","x":1463.5,"y":6.9,"e":0.48},{"r":"run216815","x":1468.5,"y":6.22,"e":0.48},{"r":"run216815","x":1473.5,"y":6.79,"e":0.48},{"r":"run216815","x":1478.5,"y":5.53,"e":0.36},{"r":"run216815","x":1483.5,"y":6.6,"e":0.48},{"r":"run216815","x":1488.5,"y":5.84,"e":0.36},{"r":"run216815","x":1493.5,"y":5.85,"e":0.36},{"r":"run216815","x":1498.5,"y":5.31,"e":0.36},{"r":"run216815","x":1503.5,"y":5.99,"e":0.36},{"r":"run216815","x":1508.5,"y":5.12,"e":0.36},{"r":"run216815","x":1513.5,"y":4.68,"e":0.36},{"r":"run216815","x":1518.5,"y":5.25,"e":0.36},{"r":"run216815","x":1523.5,"y":4.88,"e":0.36},{"r":"run216815","x":1528.5,"y":5.15,"e":0.36},{"r":"run216815","x":1533.5,"y":4.3,"e":0.36},{"r":"run216815","x":1538.5,"y":4.28,"e":0.36},{"r":"run216815","x":1543.5,"y":4.52,"e":0.36},{"r":"run216815","x":1548.5,"y":3.75,"e":0.36},{"r":"run216815","x":1553.5,"y":4.41,"e":0.36},{"r":"run216815","x":1558.5,"y":4.43,"e":0.36},{"r":"run216815","x":1563.5,"y":3.83,"e":0.36},{"r":"run216815","x":1568.5,"y":3.44,"e":0.36},{"r":"run216815","x":1573.5,"y":3.9,"e":0.36},{"r":"run216815","x":1578.5,"y":3.43,"e":0.36},{"r":"run216815","x":1583.5,"y":4.16,"e":0.36},{"r":"run216815","x":1588.5,"y":3.0,"e":0.36},{"r":"run216815","x":1593.5,"y":3.14,"e":0.36},{"r":"run216815","x":1598.5,"y":3.21,"e":0.36},{"r":"run216815","x":1603.5,"y":2.49,"e":0.24},{"r":"run216815","x":1608.5,"y":2.89,"e":0.24},{"r":"run216815","x":1613.5,"y":2.5,"e":0.24},{"r":"run216815","x":1618.5,"y":2.69,"e":0.24},{"r":"run216815","x":1623.5,"y":2.15,"e":0.24},{"r":"run216815","x":1628.5,"y":2.15,"e":0.24},{"r":"run216815","x":1633.5,"y":2.39,"e":0.24},{"r":"run216815","x":1638.5,"y":1.73,"e":0.24},{"r":"run216815","x":1643.5,"y":1.87,"e":0.24},{"r":"run216815","x":1648.5,"y":1.46,"e":0.18},{"r":"run216815","x":1653.5,"y":1.87,"e":0.24},{"r":"run216815","x":1658.5,"y":1.43,"e":0.18},{"r":"run216815","x":1663.5,"y":1.54,"e":0.24},{"r":"run216815","x":1668.5,"y":1.13,"e":0.18},{"r":"run216815","x":1673.5,"y":1.5,"e":0.24},{"r":"run216815","x":1678.5,"y":1.23,"e":0.18},{"r":"run216815","x":1683.5,"y":1.09,"e":0.18},{"r":"run216815","x":1688.5,"y":1.25,"e":0.18},{"r":"run216815","x":1693.5,"y":0.84,"e":0.14},{"r":"run216815","x":1698.5,"y":1.03,"e":0.18},{"r":"run216815","x":1703.5,"y":0.83,"e":0.14},{"r":"run216815","x":1708.5,"y":1.1,"e":0.18},{"r":"run216815","x":1713.5,"y":0.83,"e":0.14},{"r":"run216815","x":1718.5,"y":0.66,"e":0.14},{"r":"run216815","x":1723.5,"y":0.84,"e":0.14},{"r":"run216815","x":1733.5,"y":0.83,"e":0.14}
]},
"layer": [
 {"mark": {"type": "errorbar", "thickness": 2, "clip": true},
  "encoding": {
   "x": {"field": "x", "type": "quantitative", "scale": {"domain": [836, 1770], "nice": false, "zero": false},
    "axis": {"values": [840,860,880,900,920,940,960,980,1000,1020,1040,1060,1080,1100,1120,1140,1160,1180,1200,1220,1240,1260,1280,1300,1320,1340,1360,1380,1400,1420,1440,1460,1480,1500,1520,1540,1560,1580,1600,1620,1640,1660,1680,1700,1720,1740,1760],
     "tickCount": 200, "labelOverlap": false,
     "labelExpr": "datum.value % 100 === 0 ? format(datum.value, 'd') : ''",
     "tickSize": {"condition": {"test": "datum.value % 100 === 0", "value": -19}, "value": -10},
     "labelPadding": 29,
     "title": "Energy(keV)", "titleFont": "Liberation Serif", "titleFontSize": 46, "titleFontWeight": "normal", "titleAlign": "right", "titleAnchor": "end", "titleBaseline": "alphabetic", "titleX": 897, "titleY": 98}},
   "y": {"field": "y", "type": "quantitative", "scale": {"domain": [0.74, 56.77], "nice": false, "zero": false},
    "axis": {"values": [2,4,6,8,10,12,14,16,18,20,22,24,26,28,30,32,34,36,38,40,42,44,46,48,50,52,54,56],
     "tickCount": 200, "labelOverlap": false,
     "labelExpr": "datum.value % 10 === 0 ? format(datum.value, 'd') : ''",
     "tickSize": {"condition": {"test": "datum.value % 10 === 0", "value": -28}, "value": -13},
     "labelPadding": 39,
     "title": "Counts/N_Protons", "titleFont": "Liberation Serif", "titleFontSize": 46, "titleFontWeight": "normal", "titleAngle": 270, "titleAlign": "right", "titleAnchor": "end", "titleBaseline": "alphabetic", "titleX": -60, "titleY": -3}},
   "yError": {"field": "e"},
   "color": {"field": "r", "type": "nominal",
    "scale": {"domain": ["run216807", "run216812", "run216813", "run216815"], "range": ["#5c5cd6", "#ff00ff", "#00ffff", "#50c850"]},
    "legend": {"orient": "none", "legendX": 711, "legendY": -1, "title": "\u00a0", "titleFontSize": 15, "titlePadding": 13, "padding": 6, "strokeColor": "black", "fillColor": "white", "symbolType": "stroke", "symbolSize": 1024, "symbolStrokeWidth": 2, "labelFont": "Liberation Sans", "labelFontSize": 15, "labelColor": "black", "rowPadding": 8, "labelOffset": 8,
     "labelExpr": "datum.label + '\u00a0\u00a0\u00a0\u00a0\u00a0\u00a0\u00a0\u00a0\u00a0\u00a0\u00a0\u00a0\u2800'"}}
  }},
 {"mark": {"type": "square", "size": 5, "color": "black", "opacity": 1, "clip": true},
  "encoding": {
   "x": {"field": "x", "type": "quantitative"},
   "y": {"field": "y", "type": "quantitative",
    "axis": {"orient": "right", "title": "×10⁻¹⁵", "titleAngle": 0, "titleFont": "Liberation Sans", "titleFontSize": 22, "titleFontWeight": "normal", "titleAlign": "left", "titleBaseline": "alphabetic", "titleAnchor": "start", "titleX": -901, "titleY": -6, "labels": false, "ticks": false, "domain": false, "grid": false}}
  }}
],
"resolve": {"axis": {"y": "independent"}}
}
